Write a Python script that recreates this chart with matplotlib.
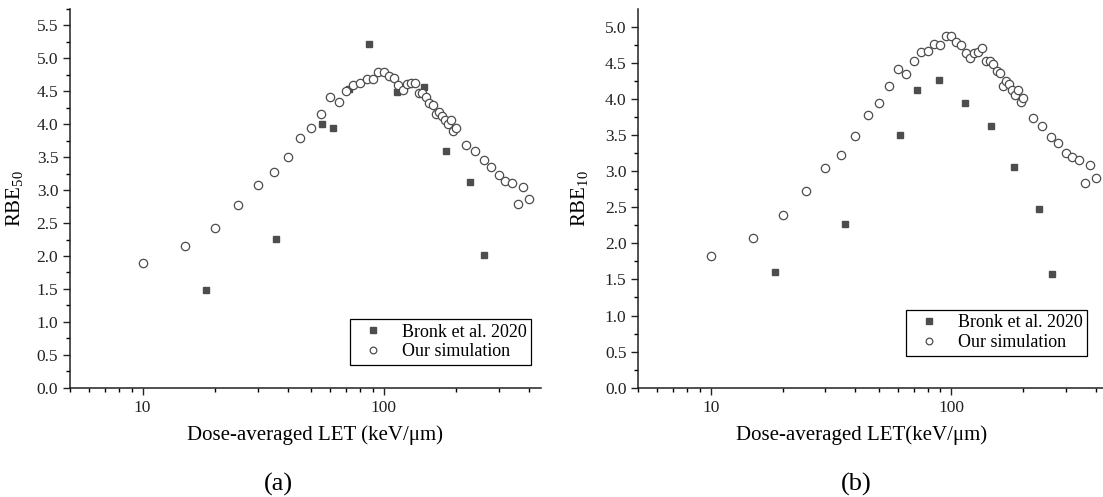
import matplotlib
matplotlib.use('Agg')
import matplotlib.pyplot as plt
from matplotlib.ticker import MultipleLocator, LogLocator, NullFormatter, FixedLocator, FixedFormatter

plt.rcParams['font.family'] = ['Liberation Serif', 'DejaVu Serif']
plt.rcParams['mathtext.default'] = 'regular'

# Datos experimentales (Bronk et al. 2020)
bronk_let_a = [18.4, 35.9, 55.5, 61.8, 71.8, 86.9, 113.7, 146.6, 180.9, 227.4, 261.8]
bronk_rbe50 = [1.49, 2.26, 4.00, 3.94, 4.53, 5.22, 4.49, 4.56, 3.60, 3.12, 2.01]

bronk_let_b = [18.5, 36.2, 61.4, 72.5, 88.9, 114.0, 146.6, 182.3, 231.7, 264.0]
bronk_rbe10 = [1.60, 2.27, 3.50, 4.12, 4.26, 3.94, 3.63, 3.06, 2.48, 1.57]

# Simulacion
sim_let = [10, 15, 20, 25, 30, 35, 40, 45, 50, 55,
           60, 65, 70, 75, 80, 85, 90, 95, 100, 105,
           110, 115, 120, 125, 130, 135, 140, 145, 150, 155,
           160, 165, 170, 175, 180, 185, 190, 195, 200,
           220, 240, 260, 280, 300, 320, 340, 360, 380, 400]
sim_rbe50 = [1.89, 2.15, 2.42, 2.78, 3.08, 3.27, 3.51, 3.79, 3.95, 4.16,
             4.41, 4.34, 4.50, 4.60, 4.63, 4.69, 4.69, 4.79, 4.79, 4.74,
             4.70, 4.59, 4.52, 4.61, 4.62, 4.63, 4.48, 4.47, 4.41, 4.33,
             4.29, 4.15, 4.18, 4.13, 4.07, 4.01, 4.06, 3.90, 3.95,
             3.68, 3.59, 3.45, 3.35, 3.23, 3.14, 3.11, 2.79, 3.05, 2.86]
sim_rbe10 = [1.82, 2.08, 2.39, 2.73, 3.04, 3.22, 3.49, 3.77, 3.94, 4.18,
             4.42, 4.34, 4.52, 4.65, 4.67, 4.76, 4.74, 4.87, 4.87, 4.79,
             4.75, 4.63, 4.56, 4.64, 4.65, 4.70, 4.52, 4.53, 4.48, 4.38,
             4.36, 4.18, 4.25, 4.20, 4.12, 4.05, 4.13, 3.96, 4.01,
             3.74, 3.62, 3.47, 3.39, 3.25, 3.19, 3.16, 2.83, 3.08, 2.90]

gris = '#4d4d4d'

fig = plt.figure(figsize=(11.03, 4.97), dpi=100)
ax1 = fig.add_axes([0.0635, 0.2199, 0.427, 0.762])
ax2 = fig.add_axes([0.5787, 0.2199, 0.4258, 0.762])

paneles = [
    (ax1, bronk_let_a, bronk_rbe50, sim_rbe50, 'RBE$_{50}$', 5.75, -0.096,
     'Dose-averaged LET (keV/μm)', 0.52, (0.979, 0.06), '(a)', 278),
    (ax2, bronk_let_b, bronk_rbe10, sim_rbe10, 'RBE$_{10}$', 5.245, -0.103,
     'Dose-averaged LET(keV/μm)', 0.476, (0.955, 0.0845), '(b)', 856),
]

for ax, bx, by, sy, ylab, ytop, ylab_pos, xlab, xlab_pos, leg_pos, letra, letra_x in paneles:
    ax.plot(bx, by, 's', color=gris, ms=5, mec=gris, label='Bronk et al. 2020', zorder=2)
    ax.plot(sim_let, sy, 'o', mfc='white', mec=gris, mew=0.9, ms=6, label='Our simulation', zorder=3)

    ax.set_xscale('log')
    ax.set_xlim(5, 450)
    ax.set_ylim(0, ytop)

    ax.xaxis.set_major_locator(FixedLocator([10, 100]))
    ax.xaxis.set_major_formatter(FixedFormatter(['10', '100']))
    ax.xaxis.set_minor_locator(LogLocator(base=10, subs=range(2, 10), numticks=20))
    ax.xaxis.set_minor_formatter(NullFormatter())
    ax.yaxis.set_major_locator(MultipleLocator(0.5))
    ax.yaxis.set_minor_locator(MultipleLocator(0.25))
    ax.yaxis.set_major_formatter(plt.FuncFormatter(lambda v, p: '%.1f' % v))

    ax.tick_params(which='major', direction='out', length=5, width=1, labelsize=12.5, colors='#222222')
    ax.tick_params(which='minor', direction='out', length=3, width=1)
    for lado in ['top', 'right']:
        ax.spines[lado].set_visible(False)
    for lado in ['left', 'bottom']:
        ax.spines[lado].set_linewidth(1.1)
        ax.spines[lado].set_color('#222222')

    ax.set_ylabel(ylab, fontsize=15)
    ax.yaxis.set_label_coords(ylab_pos, 0.5)
    ax.set_xlabel(xlab, fontsize=15)
    ax.xaxis.set_label_coords(xlab_pos, -0.1)

    leg = ax.legend(loc='lower right', bbox_to_anchor=leg_pos, fontsize=13,
                    frameon=True, fancybox=False, edgecolor='black', framealpha=1,
                    handletextpad=0.6, borderpad=0.25, labelspacing=0.15, markerscale=0.8,
                    borderaxespad=0)
    leg.get_frame().set_linewidth(0.9)

    fig.text(letra_x / 1103, 1 - 484 / 497, letra, fontsize=19, ha='center', va='center')

plt.savefig('out.png', dpi=100)
